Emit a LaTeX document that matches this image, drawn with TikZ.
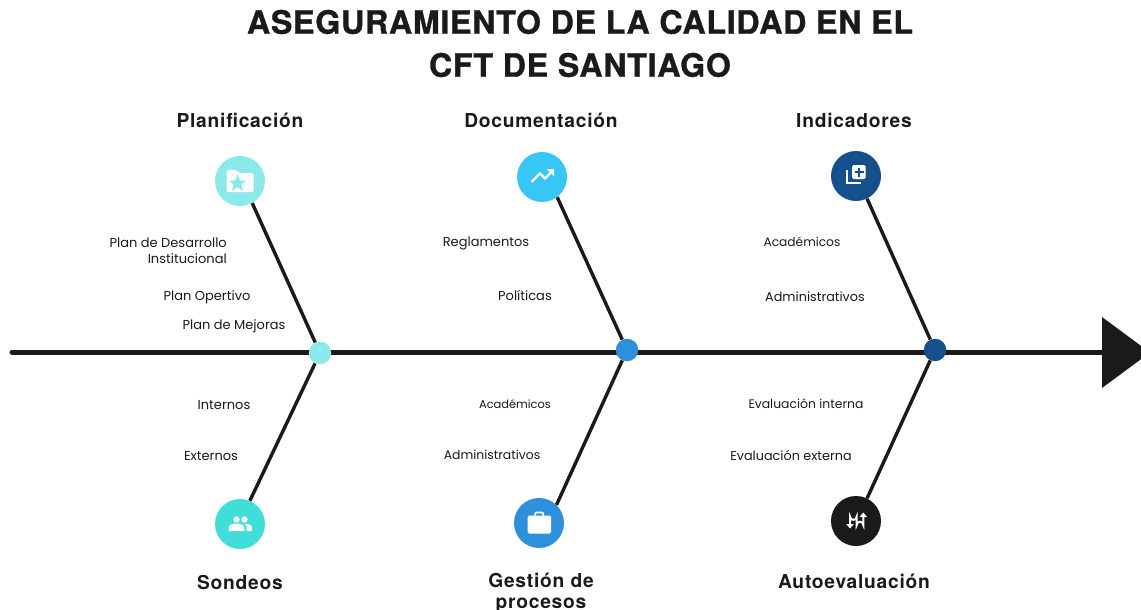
\documentclass[tikz,border=0pt]{standalone}
\usepackage{fontspec}
\setmainfont{Poppins}
\newfontfamily\titlefont[LetterSpace=2.2,FakeBold=1]{TeX Gyre Heros Bold}
\newfontfamily\headfont[LetterSpace=4]{TeX Gyre Heros Bold}
\usetikzlibrary{backgrounds,arrows.meta}
\definecolor{cPlan}{HTML}{8CE9E9}
\definecolor{cDoc}{HTML}{38C6F4}
\definecolor{cInd}{HTML}{15508C}
\definecolor{cSon}{HTML}{40DDDA}
\definecolor{cGes}{HTML}{2E90DB}
\definecolor{cAut}{HTML}{1A1A1A}
\tikzset{
  hub/.style={circle,minimum size=50pt,inner sep=0pt,fill=#1},
  joint/.style={circle,minimum size=22.5pt,inner sep=0pt,fill=#1},
  bone/.style={line width=3.4pt,draw=cAut},
  spine/.style={line width=5pt,draw=cAut,line cap=round},
  lbl/.style={inner sep=0pt,font=\fontsize{#1}{16}\selectfont,text=cAut,align=right},
  lbl/.default=13,
  head/.style={inner sep=0pt,font=\fontsize{19.2}{20.5}\selectfont\headfont,text=cAut,align=center},
  ttl/.style={inner sep=0pt,font=\fontsize{32.2}{40}\selectfont\titlefont,text=cAut,align=center},
  ic/.style={fill=white,draw=none}
}
\begin{document}
\begin{tikzpicture}[x=1pt,y=-1pt]
\useasboundingbox (0,0) rectangle (1141,610);
\node[ttl] (t1) at (580,22) {ASEGURAMIENTO DE LA CALIDAD EN EL};
\node[ttl] (t2) at (580,65) {CFT DE SANTIAGO};
\node[hub=cPlan] (plan) at (240,181) {};
\node[hub=cDoc] (doc) at (542,177) {};
\node[hub=cInd] (ind) at (856,176) {};
\node[hub=cSon] (son) at (240,524) {};
\node[hub=cGes] (ges) at (539,523) {};
\node[hub=cAut] (aut) at (856,521) {};
\node[joint=cPlan] (j1) at (320,353) {};
\node[joint=cGes] (j2) at (627,350) {};
\node[joint=cInd] (j3) at (935,350) {};
\coordinate (sp0) at (12,352);
\coordinate (sp1) at (1110,352);
\begin{scope}[on background layer]
\draw[spine] (sp0) -- (sp1);
\draw[bone] (plan.-61) -- (j1);
\draw[bone] (doc.-53) -- (j2);
\draw[bone] (ind.-64) -- (j3);
\draw[bone] (son.67) -- (j1);
\draw[bone] (ges.46) -- (j2);
\draw[bone] (aut.64) -- (j3);
\end{scope}
\fill[cAut] (1102,317) -- (1150,352.5) -- (1102,388) -- cycle;
% folder
\begin{scope}[shift={(240,181)}]
\fill[ic,rounded corners=1.5pt] (-13.5,-11) -- (-4,-11) -- (-1,-8) -- (13.5,-8) -- (13.5,11) -- (-13.5,11) -- cycle;
\fill[cPlan] (-2.5,-6.5) -- (-0.1,-0.6) -- (6,-0.3) -- (1.3,3.6) -- (3.2,9.6) -- (-2.5,6.2) -- (-8.2,9.6) -- (-6.3,3.6) -- (-11,-0.3) -- (-4.9,-0.6) -- cycle;
\end{scope}
% trend
\begin{scope}[shift={(542,177)}]
\draw[white,line width=2.2pt] (-10.5,5) -- (-2,-3.5) -- (3,1.5) -- (10,-5.5);
\fill[white] (4.5,-8) -- (12,-8) -- (12,-0.5) -- cycle;
\end{scope}
% library add
\begin{scope}[shift={(856,176)}]
\fill[ic,rounded corners=1.5pt] (-4,-11) rectangle (9.7,3);
\draw[white,line width=1.7pt] (-8.7,-6) -- (-8.7,7.3) -- (4.7,7.3);
\draw[cInd,line width=2pt] (-1.5,-4) -- (7.5,-4) (3,-8.5) -- (3,0.5);
\end{scope}
% people
\begin{scope}[shift={(240,524)}]
\fill[ic] (-3.5,-4.5) circle (3.2);
\fill[ic] (4.5,-4.5) circle (3.2);
\fill[ic,rounded corners=1pt] (-11.5,7) -- (-11.5,4) .. controls (-11,1) and (-7,-0.5) .. (-3.5,-0.5) .. controls (0,-0.5) and (4,1) .. (4.5,4) -- (4.5,7) -- cycle;
\fill[ic,rounded corners=1pt] (6.5,7) -- (6.5,3.5) .. controls (6.5,2) and (5.5,0.5) .. (4,-0.2) .. controls (8,-0.8) and (11.5,1) .. (12,4) -- (12,7) -- cycle;
\end{scope}
% briefcase
\begin{scope}[shift={(539,523)}]
\fill[ic,rounded corners=1.5pt] (-11.5,-7.5) rectangle (12,10.5);
\draw[white,line width=1.8pt,rounded corners=1pt] (-3.8,-7.5) -- (-3.8,-10.5) -- (4.2,-10.5) -- (4.2,-7.5);
\end{scope}
% u-turn arrows
\begin{scope}[shift={(856,521)}]
\draw[white,line width=2pt] (-6,3) -- (-6,-4.5) arc[start angle=180,end angle=0,radius=3.35] -- (0.7,4) arc[start angle=180,end angle=360,radius=3.3] -- (7.3,-4);
\fill[white] (-9.8,3) -- (-2.2,3) -- (-6,7.5) -- cycle;
\fill[white] (3.5,-4) -- (11.1,-4) -- (7.3,-8.5) -- cycle;
\end{scope}
% headings
\node[head] (hPlan) at (240,120) {Planificación};
\node[head] (hDoc) at (541,120) {Documentación};
\node[head] (hInd) at (854,120) {Indicadores};
\node[head] (hSon) at (240,582) {Sondeos};
\node[head] (hGes) at (541,593) {Gestión de\\procesos};
\node[head] (hAut) at (854,581) {Autoevaluación};
% labels
\node[lbl,anchor=east] (a1) at (227,251) {Plan de Desarrollo\\Institucional};
\node[lbl] (a2) at (207,297) {Plan Opertivo};
\node[lbl] (a3) at (234,326) {Plan de Mejoras};
\node[lbl] (b1) at (486,243) {Reglamentos};
\node[lbl] (b2) at (525,295) {Políticas};
\node[lbl=12.2] (c1) at (802,242) {Académicos};
\node[lbl=12.8] (c2) at (815,297) {Administrativos};
\node[lbl] (d1) at (224,405) {Internos};
\node[lbl] (d2) at (211,456) {Externos};
\node[lbl=11.4] (e1) at (515,404) {Académicos};
\node[lbl=12.4] (e2) at (492,455) {Administrativos};
\node[lbl=12.4] (f1) at (806,404) {Evaluación interna};
\node[lbl=12.8] (f2) at (791,456) {Evaluación externa};
\end{tikzpicture}
\end{document}
